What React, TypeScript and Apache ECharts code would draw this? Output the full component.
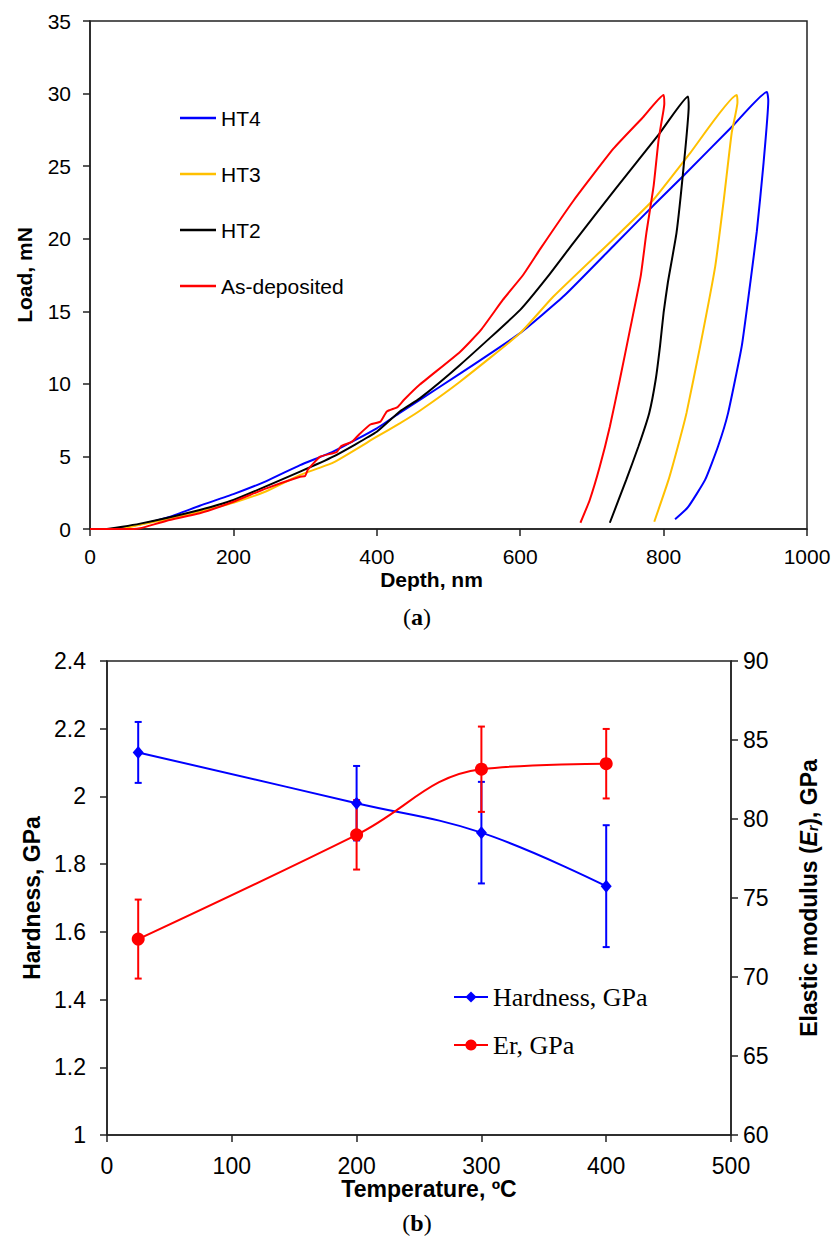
import React, { useEffect, useRef } from "react";
import * as echarts from "echarts";

// ---------- Chart (a): load–depth curves ----------
const depthTicks = [0, 200, 400, 600, 800, 1000];
const loadTicks = [0, 5, 10, 15, 20, 25, 30, 35];
const curveNames = ["HT4", "HT3", "HT2", "As-deposited"];
const curveColors = ["#0000ff", "#ffc000", "#000000", "#ff0000"];

const ht4Loading: number[][] = [
  [0, 0], [30, 0], [70, 0.32], [112, 0.85], [153, 1.6], [200, 2.4], [246, 3.3],
  [293, 4.4], [339, 5.33], [400, 6.94], [432, 8.0], [460, 8.9], [516, 10.7],
  [600, 13.5], [662, 16.1], [730, 19.5], [786, 22.3], [827, 24.3], [897, 27.8], [944, 30.1],
];
const ht4Unloading: number[][] = [
  [946, 29.5], [939, 25.0], [930, 20.5], [921, 17.0], [909, 12.6], [890, 8.0],
  [876, 5.7], [858, 3.4], [834, 1.5], [816, 0.67],
];
const ht3Loading: number[][] = [
  [0, 0], [40, 0], [70, 0.3], [112, 0.7], [153, 1.2], [200, 1.81], [246, 2.6],
  [293, 3.72], [339, 4.57], [400, 6.36], [432, 7.28], [460, 8.15], [516, 10.15],
  [600, 13.5], [646, 16.0], [739, 20.4], [786, 22.7], [837, 25.9], [902, 29.9],
];
const ht3Unloading: number[][] = [
  [903, 29.4], [895, 27.3], [884, 22.7], [872, 18.1], [851, 12.6], [832, 8.0],
  [820, 5.7], [807, 3.4], [787, 0.5],
];
const ht2Loading: number[][] = [
  [0, 0], [20, 0], [70, 0.37], [153, 1.31], [200, 2.0], [293, 3.95], [339, 4.98],
  [400, 6.7], [432, 8.1], [460, 9.0], [516, 11.3], [600, 15.1], [637, 17.3],
  [674, 19.7], [734, 23.5], [795, 27.3], [834, 29.8],
];
const ht2Unloading: number[][] = [
  [835, 29.1], [828, 25.0], [818, 20.4], [806, 17.0], [800, 14.9], [795, 12.6],
  [789, 10.3], [780, 8.0], [765, 5.7], [748, 3.4], [725, 0.43],
];
const asDepLoading: number[][] = [
  [0, 0], [60, 0], [70, 0.05], [107, 0.57], [153, 1.08], [200, 1.88], [246, 2.8],
  [293, 3.6], [300, 3.65], [304, 4.1], [321, 4.98], [344, 5.3], [350, 5.7],
  [365, 6.0], [375, 6.5], [391, 7.2], [405, 7.4], [414, 8.1], [429, 8.4],
  [438, 8.9], [460, 9.95], [516, 12.2], [545, 13.7], [576, 15.8], [604, 17.5],
  [628, 19.3], [674, 22.6], [730, 26.2], [770, 28.3], [800, 29.9],
];
const asDepUnloading: number[][] = [
  [801, 29.3], [800, 28.9], [793, 26.8], [786, 23.6], [776, 20.4], [768, 17.4],
  [753, 13.7], [739, 10.3], [725, 7.05], [711, 4.3], [697, 2.0], [684, 0.43],
];

// ---------- Chart (b): hardness & modulus vs temperature ----------
const temperatureTicks = [0, 100, 200, 300, 400, 500];
const hardnessTicks = [1, 1.2, 1.4, 1.6, 1.8, 2, 2.2, 2.4];
const modulusTicks = [60, 65, 70, 75, 80, 85, 90];
const temperatures = [25, 200, 300, 400];
const hardness = [2.13, 1.98, 1.893, 1.735];
const hardnessErr = [0.09, 0.11, 0.15, 0.18];
const modulus = [72.4, 79.0, 83.15, 83.5];
const modulusErr = [2.5, 2.2, 2.7, 2.2];

const SANS = "'Liberation Sans', Arial, sans-serif";
const SERIF = "'Liberation Serif', 'Times New Roman', serif";
const AXIS_COLOR = "#222";

function errorSeries(name: string, values: number[], errs: number[], color: string, yAxisIndex: number) {
  return {
    type: "custom",
    name,
    xAxisIndex: 1,
    yAxisIndex,
    data: temperatures.map((t, i) => [t, values[i] - errs[i], values[i] + errs[i]]),
    encode: { x: 0, y: [1, 2] },
    renderItem: (_params: any, api: any) => {
      const x = api.value(0);
      const lo = api.coord([x, api.value(1)]);
      const hi = api.coord([x, api.value(2)]);
      const half = 3.5;
      const style = { stroke: color, lineWidth: 2 };
      return {
        type: "group",
        children: [
          { type: "line", shape: { x1: lo[0], y1: lo[1], x2: hi[0], y2: hi[1] }, style },
          { type: "line", shape: { x1: lo[0] - half, y1: lo[1], x2: lo[0] + half, y2: lo[1] }, style },
          { type: "line", shape: { x1: hi[0] - half, y1: hi[1], x2: hi[0] + half, y2: hi[1] }, style },
        ],
      };
    },
    silent: true,
    z: 3,
  };
}

export default function App() {
  const ref = useRef<HTMLDivElement>(null);

  useEffect(() => {
    document.body.style.margin = "0";
    if (!ref.current) return;
    const chart = echarts.init(ref.current, undefined, { renderer: "svg" });

    const loadCurves = [
      [ht4Loading, ht4Unloading],
      [ht3Loading, ht3Unloading],
      [ht2Loading, ht2Unloading],
      [asDepLoading, asDepUnloading],
    ];

    const axisLine = { show: true, lineStyle: { color: AXIS_COLOR, width: 1.5 } };
    const axisTick = { show: true, inside: false, length: 7, lineStyle: { color: AXIS_COLOR, width: 1.5 } };
    const plain = (v: number) => String(v);

    const option: any = {
      animation: false,
      backgroundColor: "#fff",
      grid: [
        { left: 90, top: 21, width: 717, height: 508, show: true, borderColor: AXIS_COLOR, borderWidth: 1.5, backgroundColor: "transparent" },
        { left: 107, top: 661, width: 624, height: 474, show: true, borderColor: AXIS_COLOR, borderWidth: 1.5, backgroundColor: "transparent" },
      ],
      xAxis: [
        {
          type: "value", gridIndex: 0, min: depthTicks[0], max: depthTicks[depthTicks.length - 1], interval: 200,
          name: "Depth, nm", nameLocation: "middle", nameGap: 40,
          nameTextStyle: { fontFamily: SANS, fontWeight: "bold", fontSize: 21, color: "#000", padding: [0, 34, 0, 0] },
          axisLine, axisTick, splitLine: { show: false },
          axisLabel: { fontFamily: SANS, fontSize: 21, color: "#000", margin: 17, formatter: plain },
        },
        {
          type: "value", gridIndex: 1, min: temperatureTicks[0], max: temperatureTicks[temperatureTicks.length - 1], interval: 100,
          name: "Temperature, ºC", nameLocation: "middle", nameGap: 35,
          nameTextStyle: { fontFamily: SANS, fontWeight: "bold", fontSize: 23, color: "#000", padding: [0, 0, 0, 20] },
          axisLine, axisTick, splitLine: { show: false },
          axisLabel: { fontFamily: SANS, fontSize: 23, color: "#000", margin: 19, formatter: plain },
        },
      ],
      yAxis: [
        {
          type: "value", gridIndex: 0, min: loadTicks[0], max: loadTicks[loadTicks.length - 1], interval: 5,
          name: "Load, mN", nameLocation: "middle", nameGap: 55, nameRotate: 90,
          nameTextStyle: { fontFamily: SANS, fontWeight: "bold", fontSize: 21, color: "#000" },
          axisLine, axisTick, splitLine: { show: false },
          axisLabel: { fontFamily: SANS, fontSize: 21, color: "#000", margin: 19, formatter: plain },
        },
        {
          type: "value", gridIndex: 1, position: "left", min: hardnessTicks[0], max: hardnessTicks[hardnessTicks.length - 1], interval: 0.2,
          name: "Hardness, GPa", nameLocation: "middle", nameGap: 62, nameRotate: 90,
          nameTextStyle: { fontFamily: SANS, fontWeight: "bold", fontSize: 23, color: "#000" },
          axisLine, axisTick, splitLine: { show: false },
          axisLabel: { fontFamily: SANS, fontSize: 23, color: "#000", margin: 21, formatter: plain },
        },
        {
          type: "value", gridIndex: 1, position: "right", min: modulusTicks[0], max: modulusTicks[modulusTicks.length - 1], interval: 5,
          name: "Elastic modulus ({i|E}{s|r}), GPa", nameLocation: "middle", nameGap: 66, nameRotate: 90,
          nameTextStyle: {
            fontFamily: SANS, fontWeight: "bold", fontSize: 23, color: "#000",
            rich: {
              i: { fontFamily: SANS, fontWeight: "bold", fontStyle: "italic", fontSize: 23, color: "#000" },
              s: { fontFamily: SANS, fontWeight: "bold", fontStyle: "italic", fontSize: 14, color: "#000", verticalAlign: "bottom", padding: [8, 0, 0, 0] },
            },
          },
          axisLine, axisTick, splitLine: { show: false },
          axisLabel: { fontFamily: SANS, fontSize: 23, color: "#000", margin: 12, formatter: plain },
        },
      ],
      legend: [
        {
          data: curveNames,
          orient: "vertical",
          left: 175,
          top: 101,
          icon: "rect",
          itemWidth: 36,
          itemHeight: 2.5,
          itemGap: 32,
          textStyle: { fontFamily: SANS, fontSize: 21, color: "#000", lineHeight: 24 },
          selectedMode: false,
        },
        {
          data: ["Hardness, GPa", "Er, GPa"],
          orient: "vertical",
          left: 448,
          top: 979,
          itemWidth: 34,
          itemHeight: 14,
          itemGap: 22,
          textStyle: { fontFamily: SERIF, fontSize: 26, color: "#000" },
          selectedMode: false,
        },
      ],
      graphic: [
        {
          type: "text", left: "center", top: 605,
          style: {
            text: "{p|(}{b|a}{p|)}",
            rich: {
              p: { fontFamily: SERIF, fontSize: 24, color: "#000" },
              b: { fontFamily: SERIF, fontSize: 24, fontWeight: "bold", color: "#000" },
            },
          },
        },
        {
          type: "text", left: "center", top: 1211,
          style: {
            text: "{p|(}{b|b}{p|)}",
            rich: {
              p: { fontFamily: SERIF, fontSize: 24, color: "#000" },
              b: { fontFamily: SERIF, fontSize: 24, fontWeight: "bold", color: "#000" },
            },
          },
        },
      ],
      series: [
        ...loadCurves.map((c, i) => ({
          type: "line",
          name: curveNames[i],
          xAxisIndex: 0,
          yAxisIndex: 0,
          data: [...c[0], ...c[1]],
          showSymbol: false,
          symbol: "none",
          smooth: 0.15,
          lineStyle: { color: curveColors[i], width: 2 },
          itemStyle: { color: curveColors[i] },
          z: 2 + i,
        })),
        errorSeries("Hardness error", hardness, hardnessErr, "#0000ff", 1),
        {
          type: "line",
          name: "Hardness, GPa",
          xAxisIndex: 1,
          yAxisIndex: 1,
          data: temperatures.map((t, i) => [t, hardness[i]]),
          smooth: 0.4,
          symbol: "diamond",
          symbolSize: [11, 13],
          lineStyle: { color: "#0000ff", width: 2 },
          itemStyle: { color: "#0000ff" },
          z: 4,
        },
        errorSeries("Er error", modulus, modulusErr, "#ff0000", 2),
        {
          type: "line",
          name: "Er, GPa",
          xAxisIndex: 1,
          yAxisIndex: 2,
          data: temperatures.map((t, i) => [t, modulus[i]]),
          smooth: 0.4,
          symbol: "circle",
          symbolSize: 13,
          lineStyle: { color: "#ff0000", width: 2 },
          itemStyle: { color: "#ff0000" },
          z: 5,
        },
      ],
    };

    chart.setOption(option);
    return () => chart.dispose();
  }, []);

  return <div ref={ref} style={{ width: 834, height: 1239, background: "#fff" }} />;
}
